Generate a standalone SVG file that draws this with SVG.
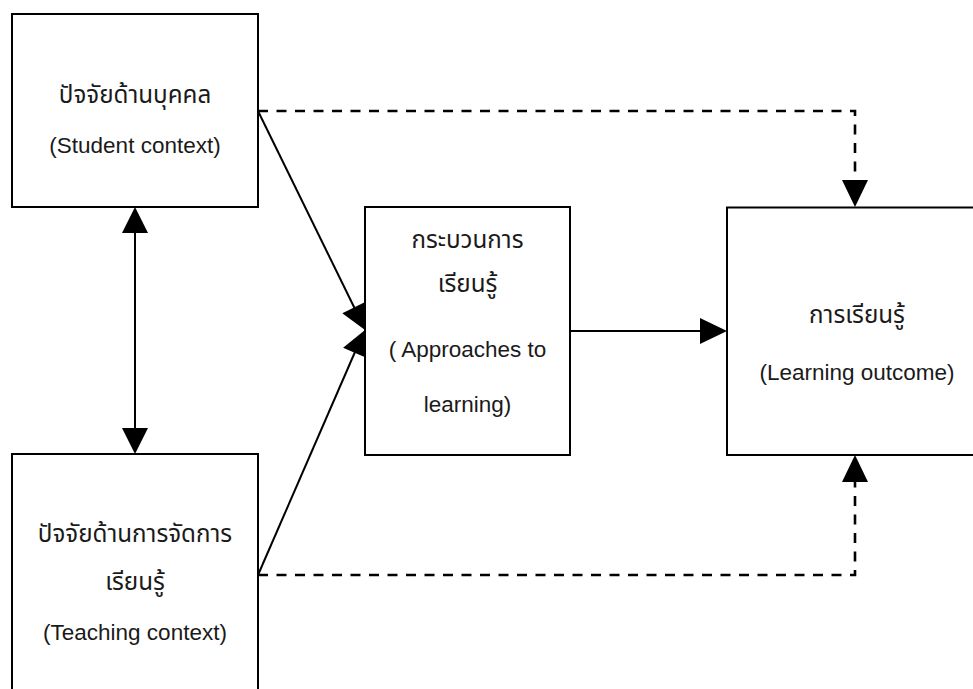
<svg xmlns="http://www.w3.org/2000/svg" width="973" height="689" viewBox="0 0 973 689">
  <style>
    .box { fill: #ffffff; stroke: #000000; stroke-width: 2; }
    .lbl { font-family: "Liberation Sans", Arial, "Noto Sans Thai", "Noto Sans", sans-serif; font-size: 22.5px; fill: #1a1a1a; text-anchor: middle; }
    .th { font-size: 24.2px; }
    .solid { fill: none; stroke: #000000; stroke-width: 2; }
    .dash { fill: none; stroke: #000000; stroke-width: 2.6; stroke-dasharray: 10 8.5; }
    .head { fill: #000000; stroke: none; }
  </style>
  <rect width="973" height="689" fill="#ffffff"/>

  <!-- connectors -->
  <g id="connectors">
    <!-- student context <-> teaching context -->
    <line class="solid" x1="135" y1="230" x2="135" y2="431"/>
    <polygon class="head" points="135,207 148,233 122,233"/>
    <polygon class="head" points="135,454 148,428 122,428"/>

    <!-- contexts -> approaches to learning -->
    <line class="solid" x1="258" y1="111" x2="355" y2="309"/>
    <polygon class="head" points="365,330 365.7,301.8 342.3,313.2"/>
    <line class="solid" x1="258" y1="575" x2="355" y2="352"/>
    <polygon class="head" points="365,330 366.9,358.1 343.1,347.7"/>

    <!-- approaches -> outcome -->
    <line class="solid" x1="570" y1="331" x2="702" y2="331"/>
    <polygon class="head" points="727,331 700,318 700,344"/>

    <!-- dashed direct paths to outcome -->
    <polyline class="dash" points="258,111 855,111 855,182"/>
    <polygon class="head" points="855,207 842,180 868,180"/>
    <polyline class="dash" points="258,575 855,575 855,480"/>
    <polygon class="head" points="855,455 842,482 868,482"/>
  </g>

  <g id="student-context">
    <rect class="box" x="12" y="14" width="246" height="193"/>
    <text class="lbl th" x="135" y="103">ปัจจัยด้านบุคคล</text>
    <text class="lbl" x="135" y="153">(Student context)</text>
  </g>

  <g id="teaching-context">
    <rect class="box" x="12" y="454" width="246" height="250"/>
    <text class="lbl th" x="135" y="542">ปัจจัยด้านการจัดการ</text>
    <text class="lbl th" x="135" y="590">เรียนรู้</text>
    <text class="lbl" x="135" y="640">(Teaching context)</text>
  </g>

  <g id="approaches">
    <rect class="box" x="365" y="207" width="205" height="248"/>
    <text class="lbl th" x="467.5" y="248">กระบวนการ</text>
    <text class="lbl th" x="467.5" y="292">เรียนรู้</text>
    <text class="lbl" x="467.5" y="357">( Approaches to</text>
    <text class="lbl" x="467.5" y="412">learning)</text>
  </g>

  <g id="outcome">
    <rect class="box" x="727" y="207.5" width="270" height="247.5"/>
    <text class="lbl th" x="857" y="323">การเรียนรู้</text>
    <text class="lbl" x="857" y="380">(Learning outcome)</text>
  </g>
</svg>
